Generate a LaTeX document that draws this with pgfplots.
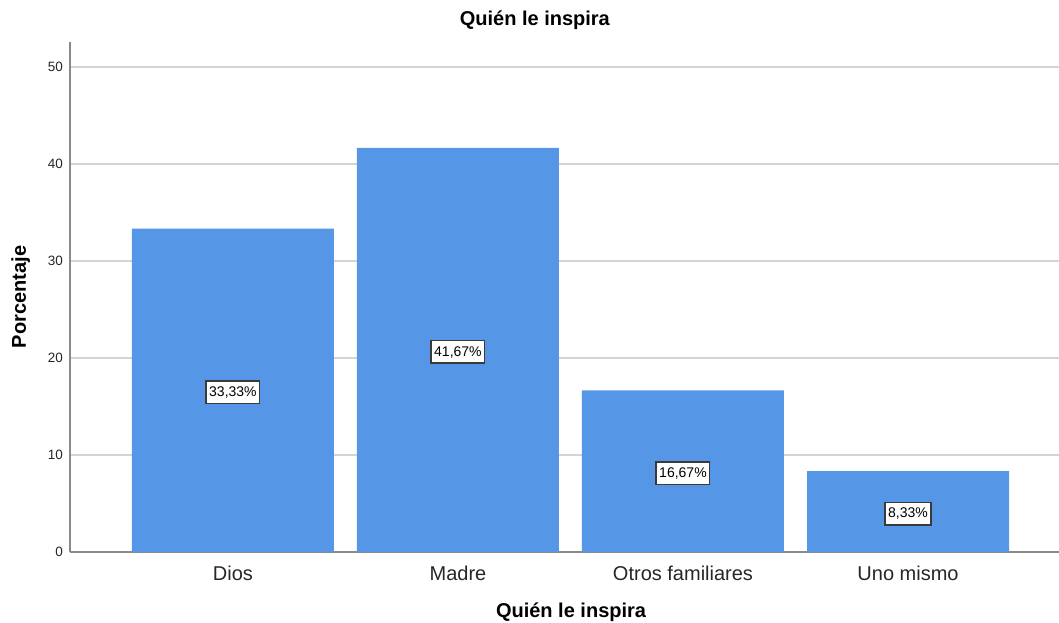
\documentclass[border=0pt]{standalone}
\usepackage{fontspec}
\setmainfont{Liberation Sans}
\usepackage{pgfplots}
\pgfplotsset{compat=1.18}
\usepackage{pgfplotstable}
\definecolor{barblue}{HTML}{5596E6}
\definecolor{gridgray}{HTML}{D4D4D4}
\definecolor{axisgray}{HTML}{8A8A8A}
\definecolor{boxgray}{HTML}{3A3A3A}
\pgfplotstableread{
x y
0 33.33
1 41.67
2 16.67
3 8.33
}\datatable
\begin{document}
\begin{tikzpicture}
\begin{axis}[
  scale only axis, width=989pt, height=510pt,
  at={(0,0)}, anchor=south west,
  xmin=-0.724, xmax=3.671,
  ymin=0, ymax=52.58,
  axis x line*=bottom, axis y line*=left,
  axis line style={draw=axisgray, line width=1.5pt},
  ymajorgrids, major grid style={draw=gridgray, line width=1.5pt},
  major tick length=0pt,
  xtick={0,1,2,3},
  xticklabels={Dios, Madre, Otros familiares, Uno mismo},
  ytick={0,10,20,30,40,50},
  /pgf/number format/assume math mode=true,
  xticklabel style={font=\fontsize{20}{24}\selectfont, anchor=base, yshift=-28pt, text=black!85},
  yticklabel style={font=\fontsize{13.5}{16}\selectfont, anchor=east, inner sep=0pt, xshift=-7pt, text=black!85},
  title={Quién le inspira},
  title style={font=\bfseries\fontsize{20}{24}\selectfont, at={(axis description cs:0.47,1.0196)}, anchor=base},
  xlabel={Quién le inspira},
  xlabel style={font=\bfseries\fontsize{20}{24}\selectfont, at={(axis description cs:0.5066,-0.1275)}, anchor=base},
  ylabel={Porcentaje},
  ylabel style={font=\bfseries\fontsize{20}{24}\selectfont, at={(axis description cs:-0.0445,0.5)}, anchor=base, rotate=0},
  clip=false,
]
\addplot[ybar, bar width=202pt, fill=barblue, draw=none] table[x=x, y=y] {\datatable};
\addplot[draw=none, mark=none,
  point meta={\thisrow{y}},
  nodes near coords={\pgfmathprintnumber[fixed,fixed zerofill,precision=2,use comma]{\pgfplotspointmeta}\%},
  nodes near coords style={anchor=center, yshift=-2pt, fill=white, draw=boxgray, line width=1.5pt,
    font=\fontsize{14}{16}\selectfont, text height=10pt, text depth=1.5pt, inner xsep=3pt, inner ysep=5.5pt},
] table[x=x, y expr=\thisrow{y}/2] {\datatable};
\end{axis}
\pgfresetboundingbox
\path[use as bounding box] (-70pt,-71pt) rectangle (989pt,552pt);
\end{tikzpicture}
\end{document}
